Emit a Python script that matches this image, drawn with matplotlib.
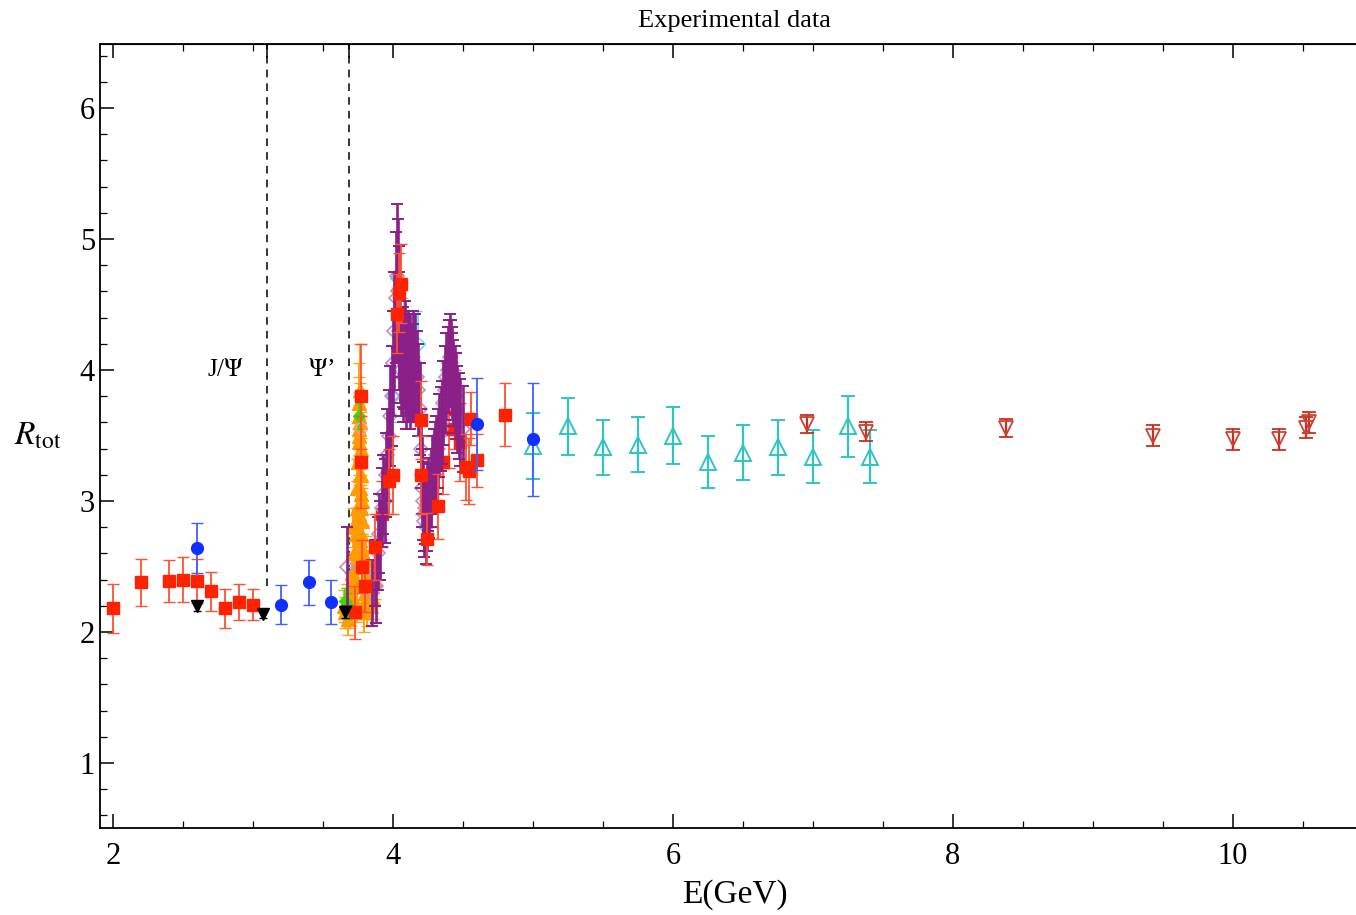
import numpy as np
import matplotlib
matplotlib.use('Agg')
import matplotlib.pyplot as plt

plt.rcParams['font.family'] = ['Liberation Serif', 'DejaVu Serif']
plt.rcParams['mathtext.fontset'] = 'stix'

# ---- data (E in GeV, R, error) ----
# red squares
red_x = [2.0, 2.2, 2.4, 2.5, 2.6, 2.7, 2.8, 2.9, 3.0,
         3.73, 3.77, 3.77, 3.78, 3.80, 3.87, 3.97, 4.00, 4.03, 4.04, 4.06,
         4.20, 4.20, 4.24, 4.32, 4.52, 4.54, 4.56, 4.60, 4.80]
red_y = [2.18, 2.38, 2.39, 2.40, 2.39, 2.31, 2.18, 2.23, 2.21,
         2.15, 3.30, 3.80, 2.50, 2.35, 2.65, 3.15, 3.20, 4.43, 4.59, 4.66,
         3.62, 3.20, 2.71, 2.96, 3.26, 3.23, 3.63, 3.31, 3.66]
red_e = [0.19, 0.18, 0.16, 0.17, 0.17, 0.15, 0.15, 0.14, 0.12,
         0.20, 0.35, 0.40, 0.20, 0.20, 0.25, 0.25, 0.30, 0.30, 0.30, 0.30,
         0.30, 0.30, 0.20, 0.25, 0.25, 0.25, 0.20, 0.20, 0.24]
# red squares lying under the dense scan
redh_x = [3.92, 4.10, 4.14, 4.28, 4.36, 4.40, 4.44, 4.48]
redh_y = [2.90, 4.00, 3.90, 3.05, 3.30, 3.55, 3.70, 3.45]
redh_e = [0.25, 0.30, 0.30, 0.25, 0.25, 0.30, 0.30, 0.30]

# blue circles
blue_x = [2.6, 3.2, 3.4, 3.56, 4.6, 5.0]
blue_y = [2.64, 2.21, 2.38, 2.23, 3.59, 3.47]
blue_e = [0.19, 0.15, 0.17, 0.17, 0.35, 0.43]

# black filled down triangles
blk_x = [2.6, 3.07, 3.66]
blk_y = [2.20, 2.14, 2.15]
blk_e = [0.04, 0.03, 0.04]

# cyan open up triangles
cyan_x = [5.0, 5.25, 5.5, 5.75, 6.0, 6.25, 6.5, 6.75, 7.0, 7.25, 7.41]
cyan_y = [3.42, 3.57, 3.41, 3.43, 3.50, 3.30, 3.37, 3.41, 3.34, 3.57, 3.34]
cyan_e = [0.25, 0.22, 0.21, 0.21, 0.22, 0.20, 0.21, 0.21, 0.20, 0.23, 0.20]

# dark red open down triangles
dred_x = [6.96, 7.38, 8.38, 9.43, 10.0, 10.33, 10.52, 10.54]
dred_y = [3.59, 3.53, 3.56, 3.50, 3.47, 3.47, 3.56, 3.60]
dred_e = [0.07, 0.07, 0.07, 0.08, 0.08, 0.08, 0.08, 0.08]

# orange filled up triangles (psi' / psi(3770) scan)
org_x = [3.650, 3.660, 3.670, 3.680, 3.690, 3.700, 3.705, 3.710, 3.715, 3.720,
         3.725, 3.730, 3.735, 3.740, 3.745, 3.750, 3.752, 3.755, 3.758, 3.760,
         3.762, 3.765, 3.768, 3.770, 3.773, 3.776, 3.780, 3.785, 3.790, 3.800,
         3.810, 3.820, 3.830, 3.840, 3.850, 3.860, 3.870,
         3.754, 3.757, 3.761, 3.764, 3.767, 3.771, 3.774, 3.778, 3.763, 3.769,
         3.695, 3.745, 3.790, 3.805, 3.815, 3.825]
org_y = [2.20, 2.15, 2.25, 2.10, 2.30, 2.20, 2.45, 2.25, 2.80, 2.35,
         2.60, 2.40, 2.75, 2.95, 3.10, 3.30, 2.50, 3.55, 2.90, 3.75,
         3.20, 3.60, 2.70, 3.40, 3.20, 3.00, 2.85, 2.60, 2.40, 2.30,
         2.25, 2.45, 2.30, 2.20, 2.35, 2.25, 2.40,
         3.45, 3.65, 3.50, 3.85, 3.35, 3.05, 2.75, 2.55, 3.10, 2.95,
         2.15, 2.20, 2.15, 2.55, 2.20, 2.35]
org_e = [0.12, 0.12, 0.12, 0.12, 0.15, 0.15, 0.15, 0.15, 0.15, 0.15,
         0.18, 0.18, 0.20, 0.20, 0.22, 0.25, 0.20, 0.28, 0.22, 0.30,
         0.25, 0.30, 0.22, 0.28, 0.28, 0.25, 0.25, 0.22, 0.20, 0.18,
         0.15, 0.18, 0.15, 0.15, 0.15, 0.15, 0.15,
         0.28, 0.30, 0.30, 0.35, 0.28, 0.25, 0.22, 0.20, 0.25, 0.25,
         0.12, 0.12, 0.15, 0.18, 0.15, 0.15]

# purple scan (open diamonds)
pur_x = [3.67, 3.85, 3.87, 3.88, 3.89, 3.90, 3.91, 3.92, 3.93, 3.94, 3.95,
         3.96, 3.97, 3.98, 3.99, 4.00, 4.01, 4.02, 4.03, 4.035, 4.04, 4.045,
         4.05, 4.06, 4.07, 4.075, 4.08, 4.085, 4.09, 4.095, 4.10, 4.105, 4.11,
         4.115, 4.12, 4.125, 4.13, 4.135, 4.14, 4.145, 4.15, 4.16, 4.17, 4.18,
         4.19, 4.20, 4.205, 4.21, 4.215, 4.22, 4.225, 4.23, 4.235, 4.24, 4.245,
         4.25, 4.26, 4.27, 4.28, 4.29, 4.30, 4.31, 4.32, 4.33, 4.34, 4.35,
         4.36, 4.37, 4.38, 4.39, 4.40, 4.41, 4.415, 4.42, 4.425, 4.43, 4.44,
         4.45, 4.46, 4.47, 4.48, 4.50]
pur_y = [2.50, 2.30, 2.45, 2.35, 2.60, 2.75, 2.70, 2.95, 3.05, 3.00, 3.20,
         3.35, 3.50, 3.65, 3.80, 4.05, 4.30, 4.55, 4.72, 4.60, 4.45, 4.30,
         4.15, 4.00, 4.10, 3.95, 4.05, 4.15, 4.00, 3.90, 4.05, 4.10, 3.95,
         4.00, 3.90, 4.05, 4.00, 3.95, 4.10, 4.00, 3.95, 4.05, 3.95, 3.85,
         3.70, 3.40, 3.20, 3.10, 3.00, 2.90, 2.85, 2.95, 2.80, 2.90, 3.00,
         3.05, 3.00, 3.10, 3.20, 3.25, 3.30, 3.35, 3.40, 3.50, 3.55, 3.60,
         3.75, 3.85, 3.95, 4.00, 4.05, 4.10, 4.05, 4.00, 3.95, 3.90, 3.85,
         3.80, 3.70, 3.65, 3.60, 3.55]
pur_e = [0.30, 0.25, 0.25, 0.28, 0.28, 0.30, 0.30, 0.30, 0.30, 0.32, 0.32,
         0.35, 0.35, 0.38, 0.38, 0.40, 0.45, 0.50, 0.55, 0.55, 0.50, 0.45,
         0.40, 0.35, 0.38, 0.35, 0.35, 0.38, 0.35, 0.35, 0.38, 0.35, 0.35,
         0.35, 0.35, 0.38, 0.35, 0.35, 0.35, 0.35, 0.35, 0.38, 0.35, 0.35,
         0.35, 0.30, 0.30, 0.30, 0.30, 0.28, 0.28, 0.28, 0.28, 0.28, 0.28,
         0.28, 0.28, 0.30, 0.30, 0.30, 0.30, 0.30, 0.30, 0.32, 0.32, 0.32,
         0.32, 0.33, 0.33, 0.33, 0.33, 0.33, 0.33, 0.33, 0.33, 0.33, 0.33,
         0.33, 0.33, 0.33, 0.33, 0.33]

# light cyan diamonds hidden under the scan
lcy_x = [4.00, 4.03, 4.05, 4.08, 4.12, 4.14, 4.18]
lcy_y = [3.80, 4.70, 4.45, 4.30, 4.15, 3.90, 4.20]
lcy_e = [0.20, 0.25, 0.25, 0.25, 0.25, 0.25, 0.25]

# green diamonds
grn_x = [3.66, 3.68, 3.76]
grn_y = [2.24, 2.20, 3.65]
grn_e = [0.10, 0.10, 0.10]

# pink open circle
pnk_x = [3.77]
pnk_y = [3.56]

jpsi = 3.097
psi2 = 3.686

fig = plt.figure(figsize=(13.56, 9.15), dpi=100)
ax = fig.add_axes([0.0737, 0.095, 0.9363, 0.857])

ax.errorbar(lcy_x, lcy_y, yerr=lcy_e, fmt='D', ms=7, mfc='none', mec='#40e0f0',
            ecolor='#40e0f0', elinewidth=1.2, capsize=3, zorder=1.5)
ax.errorbar(redh_x, redh_y, yerr=redh_e, fmt='s', ms=8, color='#ff2200',
            ecolor='#ff5030', elinewidth=1.3, capsize=4, zorder=2)
ax.errorbar(org_x, org_y, yerr=org_e, fmt='^', ms=10, color='#ff9a00',
            ecolor='#ffa020', elinewidth=1.4, capsize=4, zorder=2.5)
ax.plot(pur_x, pur_y, 'D', ms=7, mfc='none', mec='#b890c8', mew=1.2, zorder=2.8)
ax.errorbar(pur_x, pur_y, yerr=pur_e, fmt='none', ecolor='#8a1f88',
            elinewidth=1.9, capsize=4, capthick=1.4, zorder=3)
ax.errorbar(red_x, red_y, yerr=red_e, fmt='s', ms=8, color='#ff2200',
            ecolor='#ff5030', elinewidth=1.3, capsize=4, zorder=3.2)
ax.errorbar(blue_x, blue_y, yerr=blue_e, fmt='o', ms=8.5, color='#1030ff',
            ecolor='#4060ff', elinewidth=1.3, capsize=4, zorder=5)
ax.errorbar(grn_x, grn_y, yerr=grn_e, fmt='D', ms=6, color='#33dd00',
            ecolor='#33dd00', elinewidth=1.2, capsize=3, zorder=2.6)
ax.errorbar(blk_x, blk_y, yerr=blk_e, fmt='v', ms=8, color='black',
            elinewidth=1.2, capsize=3, zorder=6)
ax.errorbar(cyan_x, cyan_y, yerr=cyan_e, fmt='^', ms=11, mfc='none', mec='#30c4c4',
            mew=1.4, ecolor='#30c4c4', elinewidth=1.6, capsize=5, zorder=4)
ax.errorbar(dred_x, dred_y, yerr=dred_e, fmt='v', ms=10, mfc='none', mec='#d04030',
            mew=1.3, ecolor='#c83020', elinewidth=1.6, capsize=5, zorder=4)
ax.plot(pnk_x, pnk_y, 'o', ms=8, mfc='none', mec='#f0a0c0', zorder=2.7)

# resonance markers
for xv in (jpsi, psi2):
    ax.plot([xv, xv], [2.35, 6.6], ls=(0, (5, 4)), color='black', lw=1.1, zorder=1)
ax.text(2.8, 4.0, r'J/$\Psi$', fontsize=18, ha='center', va='center')
ax.text(3.49, 4.0, '$\\Psi$\u2019', fontsize=18, ha='center', va='center')

ax.set_xlim(1.907, 10.976)
ax.set_ylim(0.504, 6.489)
ax.set_xticks([2, 4, 6, 8, 10])
ax.set_xticks(np.arange(2.5, 11, 0.5), minor=True)
ax.set_yticks([1, 2, 3, 4, 5, 6])
ax.set_yticks(np.arange(0.6, 6.5, 0.2), minor=True)
ax.tick_params(which='both', direction='in', labelsize=22, top=False, right=False)
ax.tick_params(which='major', length=10, width=1.1)
ax.tick_params(which='minor', length=5, width=0.9)
ax.tick_params(axis='x', pad=10)
ax.spines['right'].set_visible(False)
for s in ('left', 'bottom', 'top'):
    ax.spines[s].set_linewidth(1.3)

top = ax.secondary_xaxis('top')
top.set_xticks([2, 4, 6, 8, 10, jpsi, psi2])
top.set_xticks(np.arange(2.5, 11, 0.5), minor=True)
top.tick_params(which='both', direction='in', labeltop=False)
top.tick_params(which='major', length=10, width=1.1)
top.tick_params(which='minor', length=5, width=0.9)

ax.set_xlabel('E(GeV)', fontsize=24, labelpad=6)
ax.set_ylabel(r'$R_{\rm tot}$', fontsize=24, rotation=0, labelpad=30, va='center')
ax.set_title('Experimental data', fontsize=19, pad=12)

fig.savefig('out.png', dpi=100)
